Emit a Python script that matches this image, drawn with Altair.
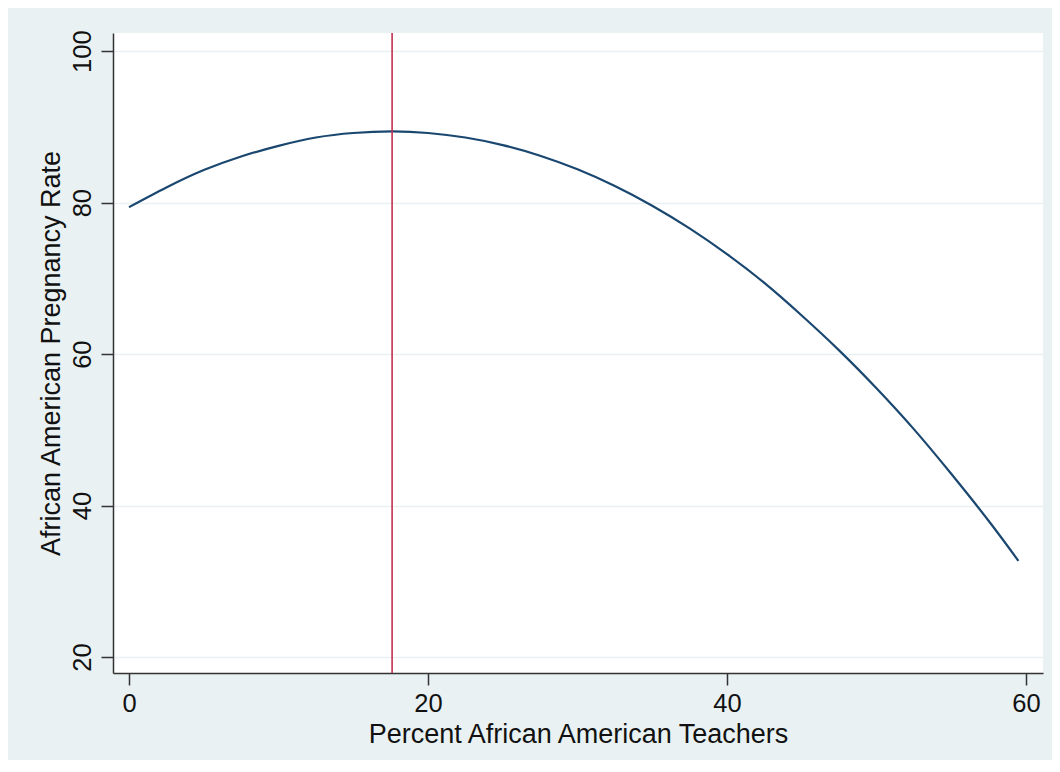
import altair as alt
import pandas as pd

# Values
teachers_pct = [0, 2.5, 5, 7.5, 10, 12.5, 15, 17.6, 20, 22.5, 25, 27.5, 30, 32.5,
                35, 37.5, 40, 42.5, 45, 47.5, 50, 52.5, 55, 57.5, 59.5]
pregnancy_rate = [79.4, 82.0, 84.3, 86.1, 87.5, 88.6, 89.2, 89.4, 89.2, 88.6, 87.6,
                  86.2, 84.4, 82.2, 79.6, 76.6, 73.2, 69.4, 65.1, 60.5, 55.5, 50.1,
                  44.2, 38.0, 32.7]
peak_x = [17.6]
x_ticks = [0, 20, 40, 60]
y_ticks = [20, 40, 60, 80, 100]

curve_df = pd.DataFrame({"x": teachers_pct, "y": pregnancy_rate})
peak_df = pd.DataFrame({"x": peak_x})

FONT = "Liberation Sans"

x_scale = alt.Scale(domain=[-1.07, 61.14], nice=False, zero=False)
y_scale = alt.Scale(domain=[17.9, 102.4], nice=False, zero=False)

x_axis = alt.Axis(
    title="Percent African American Teachers",
    values=x_ticks, grid=False, tickSize=12, labelPadding=6,
    titlePadding=5, labelFlush=False,
)
y_axis = alt.Axis(
    title="African American Pregnancy Rate",
    values=y_ticks, grid=True, tickSize=12, labelPadding=6,
    labelAngle=-90, labelAlign="center", labelBaseline="bottom",
    titlePadding=5,
)

curve = alt.Chart(curve_df).mark_line(
    color="#1A476F", strokeWidth=2.2, interpolate="natural"
).encode(
    x=alt.X("x:Q", scale=x_scale, axis=x_axis),
    y=alt.Y("y:Q", scale=y_scale, axis=y_axis),
)

peak = alt.Chart(peak_df).mark_rule(color="#C0304F", strokeWidth=1.6).encode(
    x=alt.X("x:Q", scale=x_scale),
)

chart = alt.layer(curve, peak).properties(
    width=930, height=640,
    background="#E9F1F3",
    autosize=alt.AutoSizeParams(type="none"),
    padding={"left": 105, "top": 25, "right": 9, "bottom": 87},
).configure_view(
    fill="white", stroke=None,
).configure_axis(
    labelFont=FONT, titleFont=FONT, labelFontSize=25.5, titleFontSize=27,
    labelColor="#111111", titleColor="#111111",
    titleFontWeight="normal",
    domainColor="#333333", domainWidth=1.5,
    tickColor="#333333", tickWidth=1.5,
    gridColor="#E8F0F2", gridWidth=1.5,
)

chart.save("out.html", embed_options={"renderer": "svg", "actions": False})
